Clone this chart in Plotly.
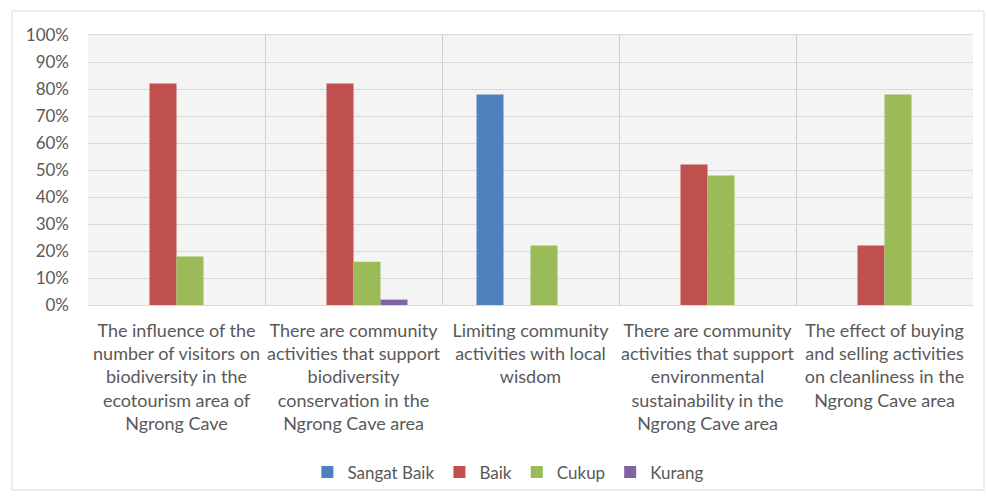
import plotly.graph_objects as go

categories = [
    "The influence of the<br>number of visitors on<br>biodiversity in the<br>ecotourism area of<br>Ngrong Cave",
    "There are community<br>activities that support<br>biodiversity<br>conservation in the<br>Ngrong Cave area",
    "Limiting community<br>activities with local<br>wisdom",
    "There are community<br>activities that support<br>environmental<br>sustainability in the<br>Ngrong Cave area",
    "The effect of buying<br>and selling activities<br>on cleanliness in the<br>Ngrong Cave area",
]
sangat_baik = [0, 0, 0.78, 0, 0]
baik = [0.82, 0.82, 0, 0.52, 0.22]
cukup = [0.18, 0.16, 0.22, 0.48, 0.78]
kurang = [0, 0.02, 0, 0, 0]

series = [
    ("Sangat Baik", sangat_baik, "#4F81BD"),
    ("Baik", baik, "#C0504D"),
    ("Cukup", cukup, "#9BBB59"),
    ("Kurang", kurang, "#8064A2"),
]

FONT = "Lato"
TXT = "#595959"

fig = go.Figure()
for name, vals, col in series:
    fig.add_trace(go.Bar(x=categories, y=vals, name=name, marker=dict(color=col, line=dict(width=0))))

fig.update_layout(
    width=986, height=498,
    margin=dict(l=88, r=13, t=35, b=193, autoexpand=False),
    paper_bgcolor="white",
    plot_bgcolor="#f4f4f4",
    barmode="group",
    bargap=0.39,
    bargroupgap=0,
    font=dict(family=FONT, size=18, color=TXT),
    legend=dict(
        orientation="h", x=0.475, xanchor="center", y=-0.62, yanchor="middle",
        font=dict(family=FONT, size=17, color=TXT),
        itemwidth=30, tracegroupgap=0, bgcolor="rgba(0,0,0,0)",
    ),
    showlegend=True,
)
fig.update_yaxes(
    range=[0, 1], dtick=0.1, tickformat=".0%",
    showgrid=True, gridcolor="#d9d9d9", gridwidth=1,
    zeroline=False, showline=False, automargin=False,
    ticks="", ticklabelstandoff=18,
    tickfont=dict(family=FONT, size=17, color=TXT),
)
fig.update_xaxes(
    tickson="boundaries", showgrid=True, gridcolor="#cfcfcf", gridwidth=1,
    showline=True, linecolor="#d9d9d9", mirror=True, automargin=False,
    ticks="outside", ticklen=20, tickcolor="rgba(0,0,0,0)",
    ticklabelstandoff=9,
    tickfont=dict(family=FONT, size=18, color=TXT),
    tickangle=0,
)
fig.add_shape(type="rect", xref="paper", yref="paper",
              x0=(12 - 88) / 885, x1=(984 - 88) / 885,
              y0=(305 - 490) / 270, y1=(305 - 11) / 270,
              line=dict(color="#d9d9d9", width=1), fillcolor="rgba(0,0,0,0)", layer="below")

fig.write_html("out.html", config={"displayModeBar": False},
               post_script="document.body.style.margin='0';")
